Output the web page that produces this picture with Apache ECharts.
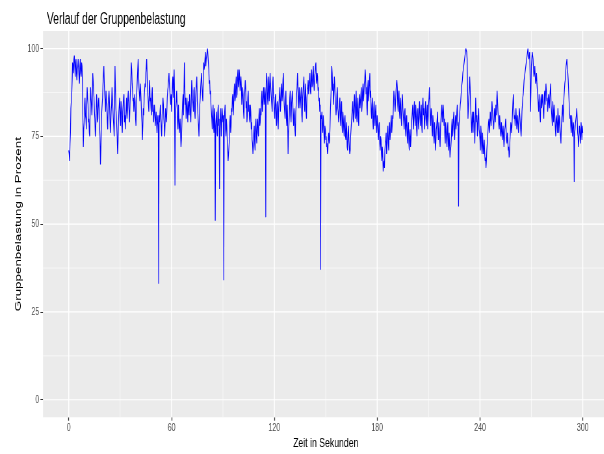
<!DOCTYPE html>
<html>
<head>
<meta charset="utf-8">
<script src="https://cdn.jsdelivr.net/npm/echarts@6/dist/echarts.min.js"></script>
<style>
html,body{margin:0;padding:0;background:#fff;overflow:hidden;}
#frame{position:relative;width:604px;height:454px;overflow:hidden;}
#chart{position:absolute;left:0;top:0;width:929px;height:454px;transform:scaleX(0.65);transform-origin:0 0;}
</style>
</head>
<body>
<div id="frame"><div id="chart"></div></div>
<script>
// ---- data ----
var titleText = 'Verlauf der Gruppenbelastung';
var xTitle = 'Zeit in Sekunden';
var yTitle = 'Gruppenbelastung in Prozent';
var xTicks = [0, 60, 120, 180, 240, 300];
var xMinor = [30, 90, 150, 210, 270];
var yTicks = [0, 25, 50, 75, 100];
var yMinor = [12.5, 37.5, 62.5, 87.5];
var sampleStart = 0;     // seconds
var sampleStep = 0.5;    // seconds between main samples
// load in percent at t = 0, 0.5, 1.0 ... 300 s
var load = [
71,68,76,85,91,95,97,95,96,93,94,97,92,95,93,96,90,72,79,86,
80,84,86,79,76,83,86,81,93,88,82,75,81,85,80,86,78,67,77,84,
90,95,87,82,85,79,84,88,81,78,84,86,80,75,95,83,78,70,79,84,
80,85,78,82,86,79,77,83,80,86,84,79,88,96,90,85,82,87,80,84,
91,97,89,85,88,81,74,83,86,90,93,97,88,84,89,85,83,87,82,79,
84,78,82,76,81,33,79,84,77,81,86,80,75,83,79,86,89,93,88,84,
82,90,86,94,61,83,88,79,84,76,80,72,78,85,81,96,84,80,86,79,
83,87,81,85,89,84,88,82,86,90,85,80,75,84,89,93,87,91,94,97,
95,98,100,96,90,87,84,80,82,78,83,51,80,76,82,78,60,81,75,83,
79,34,82,77,80,74,68,72,79,76,83,86,81,88,85,90,86,92,89,94,
88,92,84,89,82,86,91,83,79,86,82,80,84,77,74,70,76,73,78,75,
79,76,81,78,83,86,82,87,84,89,52,93,86,90,85,93,88,84,90,86,
82,86,80,84,79,83,87,82,88,85,91,87,82,86,80,84,70,78,86,81,
84,88,80,83,77,82,87,93,85,89,83,87,81,86,90,84,88,82,86,89,
87,91,88,92,89,93,90,92,95,91,93,88,85,82,37,80,77,81,75,78,
74,72,70,75,73,78,86,95,88,84,92,86,81,87,83,79,85,80,84,78,
82,77,80,75,79,72,76,74,70,75,79,83,80,85,82,86,81,84,80,85,
83,87,82,88,85,90,94,87,83,89,85,91,86,82,84,79,83,80,82,78,
81,76,78,73,75,70,72,65,68,71,74,70,76,73,77,74,79,76,81,84,
86,82,88,91,84,87,82,86,80,85,83,79,82,77,80,75,78,73,76,72,
78,82,79,83,80,84,77,81,79,83,80,82,78,84,81,79,83,80,82,77,
84,89,80,83,77,81,75,79,71,77,80,76,79,74,78,82,79,84,78,75,
79,74,77,73,76,69,72,78,75,80,76,79,77,82,78,55,80,84,87,90,
93,95,97,99,100,97,80,86,92,84,78,82,76,80,73,86,79,75,81,77,
74,78,72,76,70,74,68,66,71,75,79,76,82,78,85,80,77,83,79,81,
88,82,78,81,76,79,74,78,72,77,80,74,76,71,69,74,79,76,82,87,
80,78,83,77,81,76,83,79,75,82,86,89,92,94,96,98,100,97,99,82,
95,99,97,92,95,90,93,88,84,87,81,85,83,87,82,86,84,90,85,82,
87,83,88,84,80,85,79,82,77,81,78,83,76,80,75,78,82,79,86,90,
93,96,94,91,85,80,78,81,75,79,62,77,80,83,76,72,78,75,79,74,
76
];
// load in percent at the in-between samples t = 0.25, 0.75 ... 299.75 s
var loadMid = [
70,73,83,87,96,93,98,92,97,91,95,94,90,97,92,95,80,77,84,81,
77,89,84,80,75,89,84,85,91,86,80,77,87,79,84,83,75,71,82,86,
93,90,85,88,83,77,86,85,76,82,89,83,78,84,89,81,75,73,82,86,
78,83,76,84,87,81,80,86,82,88,82,84,91,94,88,86,84,85,78,88,
94,93,87,90,85,79,78,81,88,89,95,92,86,82,91,86,81,89,84,81,
82,80,79,79,78,81,82,80,75,83,84,78,79,81,82,88,91,90,86,87,
86,92,91,87,80,85,84,77,80,78,76,74,82,87,88,89,86,83,82,85,
81,85,79,91,86,82,89,80,88,92,83,78,80,86,91,90,85,96,95,99,
97,99,98,94,91,88,82,77,84,76,81,78,82,75,84,80,77,83,78,81,
81,79,84,75,78,72,70,74,81,78,82,87,84,90,86,92,87,94,90,92,
90,89,86,87,80,88,89,85,81,88,84,79,82,79,73,72,78,71,80,73,
80,75,83,79,81,88,84,89,85,87,90,91,84,92,88,90,86,82,92,85,
80,87,78,85,77,85,89,84,90,87,93,84,80,88,78,80,76,81,88,79,
86,85,78,81,75,84,89,90,83,87,85,89,79,88,92,82,90,80,88,91,
89,93,87,94,90,95,88,93,96,90,92,89,86,84,81,82,76,79,73,77,
75,73,71,76,74,83,90,93,90,87,90,84,83,89,82,81,86,78,85,76,
80,75,81,74,77,71,78,72,71,77,81,85,79,87,80,88,79,86,78,87,
85,89,84,90,87,91,92,89,81,91,87,93,88,80,86,77,85,78,84,76,
79,74,79,71,74,68,70,67,66,73,76,72,78,71,79,76,81,78,80,88,
84,85,90,89,82,88,80,84,78,87,81,77,83,75,81,73,79,71,77,74,
80,84,77,85,78,82,75,83,77,85,78,84,76,86,83,77,85,78,84,80,
86,85,78,82,75,79,73,76,73,78,82,74,77,72,80,84,81,82,80,73,
77,72,79,71,73,71,74,80,77,82,74,81,79,84,79,78,82,85,89,91,
94,96,98,100,99,90,83,88,89,81,76,80,82,78,79,82,81,78,83,76,
71,76,70,73,72,70,69,68,73,77,80,78,80,81,83,79,80,81,84,85,
85,80,77,79,75,77,76,75,74,78,77,73,74,72,70,76,78,79,85,83,
81,80,80,79,78,80,81,77,78,84,87,91,93,95,97,99,98,98,92,88,
97,98,94,93,92,91,90,86,82,84,79,87,85,84,80,88,87,88,86,84,
85,86,90,82,78,82,84,80,75,80,76,79,81,77,73,80,84,82,88,91,
95,97,93,88,82,81,76,79,77,78,76,79,81,80,75,74,77,73,77,78
];

// ---- build series (positions come from the axes) ----
var pts = [];
for (var i = 0; i < load.length; i++) {
  var t = sampleStart + i * sampleStep;
  pts.push([t, load[i]]);
  if (i < loadMid.length) pts.push([t + sampleStep / 2, loadMid[i]]);
}

var series = [];
var gridColor = '#FFFFFF';
function vline(v, w) {
  return {type:'line', data:[[v,-5],[v,105]], symbol:'none', silent:true, z:1,
    lineStyle:{color:gridColor, width:w}, animation:false};
}
function hline(v, w) {
  return {type:'line', data:[[-15,v],[315,v]], symbol:'none', silent:true, z:1,
    lineStyle:{color:gridColor, width:w}, animation:false};
}
xMinor.forEach(function(v){ series.push(vline(v, 0.7)); });
yMinor.forEach(function(v){ series.push(hline(v, 0.6)); });
xTicks.forEach(function(v){ series.push(vline(v, 1.5)); });
yTicks.forEach(function(v){ series.push(hline(v, 1.2)); });
series.push({
  type:'line', data: pts, symbol:'none', silent:true, z:5, animation:false,
  lineStyle:{color:'#0000FF', width:1.2}
});

var sans = "'Liberation Sans', Arial, Helvetica, sans-serif";
var chart = echarts.init(document.getElementById('chart'), null, {renderer:'canvas'});
chart.setOption({
  animation:false,
  backgroundColor:'#FFFFFF',
  title:{
    text: titleText, left: 67, top: 7,
    textStyle:{fontFamily: sans, fontSize: 16, fontWeight:'normal', color:'#000000'}
  },
  grid:{left:66.2, top:31, width:869.9, height:386.3, show:true,
        backgroundColor:'#EBEBEB', borderWidth:0, containLabel:false, outerBoundsMode:'none'},
  xAxis:{
    type:'value', min:-15, max:315,
    axisLine:{show:false, onZero:false},
    axisTick:{show:true, customValues:xTicks, length:3.4, lineStyle:{color:'#333333', width:1.3}},
    axisLabel:{customValues:xTicks, margin:5, fontFamily:sans, fontSize:10.8, color:'#4D4D4D'},
    splitLine:{show:false},
    name: xTitle, nameLocation:'middle', nameGap:20, nameMoveOverlap:false,
    nameTextStyle:{fontFamily:sans, fontSize:13.4, color:'#000000'}
  },
  yAxis:{
    type:'value', min:-5, max:105,
    axisLine:{show:false, onZero:false},
    axisTick:{show:true, customValues:yTicks, length:4, lineStyle:{color:'#333333', width:1}},
    axisLabel:{customValues:yTicks, margin:6, fontFamily:sans, fontSize:10.8, color:'#4D4D4D'},
    splitLine:{show:false},
    name: yTitle, nameLocation:'middle', nameGap:31, nameRotate:90, nameMoveOverlap:false,
    nameTextStyle:{fontFamily:sans, fontSize:13.4, color:'#000000'}
  },
  series: series
});
</script>
</body>
</html>
